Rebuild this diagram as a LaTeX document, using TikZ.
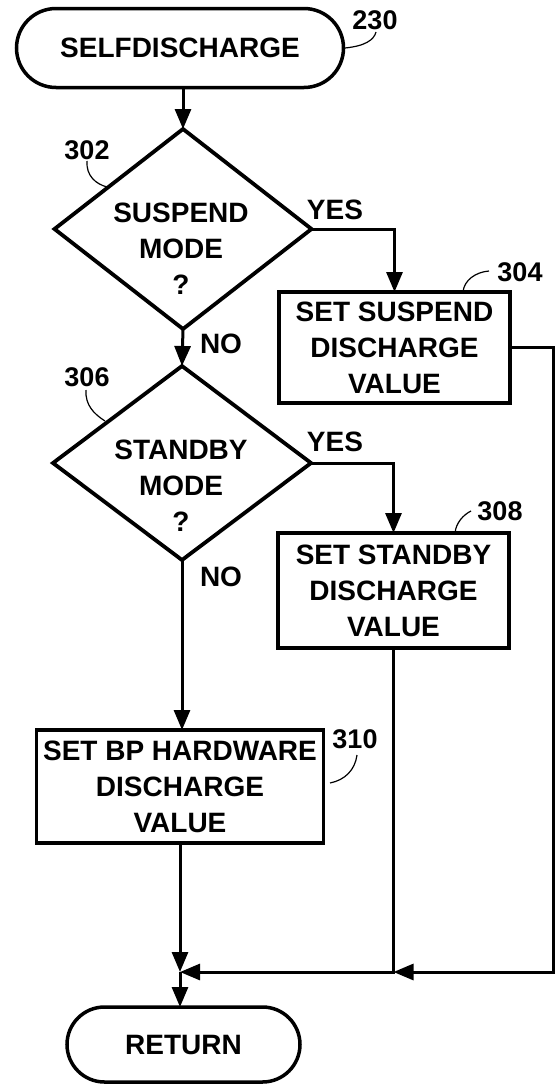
\documentclass[tikz,border=0pt]{standalone}
\usepackage{fontspec}
\setmainfont{Liberation Sans}
\usetikzlibrary{shapes.geometric,shapes.misc,arrows.meta}
\begin{document}
\begin{tikzpicture}[x=1pt,y=-1pt,
  every node/.style={inner sep=0pt,outer sep=0pt},
  txt/.style={font=\fontsize{28}{36}\selectfont\bfseries,align=center},
  num/.style={font=\fontsize{27}{30}\selectfont\bfseries},
  term/.style={rounded rectangle,draw,line width=3.5pt,txt},
  dia/.style={diamond,draw,line width=3.8pt},
  proc/.style={rectangle,draw,line width=3.3pt,txt},
  conn/.style={line width=3pt},
  arr/.style={conn,-{Triangle[length=20pt,width=16pt]}},
  lead/.style={line width=1.2pt}]
\useasboundingbox (0,0) rectangle (557,1084);

% nodes
\node[term,minimum width=327pt,minimum height=79pt] (t1) at (180,48) {SELFDISCHARGE};
\node[dia,minimum width=257pt,minimum height=200pt] (d1) at (183,229) {};
\node[txt] (d1t) at (181,249) {SUSPEND\\MODE\\?};
\node[proc,minimum width=231pt,minimum height=111pt] (b1) at (394.5,347.5) {SET SUSPEND\\DISCHARGE\\VALUE};
\node[dia,minimum width=258pt,minimum height=194pt] (d2) at (182,463) {};
\node[txt] (d2t) at (181,486) {STANDBY\\MODE\\?};
\node[proc,minimum width=231pt,minimum height=115pt] (b2) at (393.5,590.5) {SET STANDBY\\DISCHARGE\\VALUE};
\node[proc,minimum width=287pt,minimum height=113pt] (b3) at (180,786.5) {SET BP HARDWARE\\DISCHARGE\\VALUE};
\node[term,minimum width=233pt,minimum height=75pt] (t2) at (183.5,1044.5) {RETURN};

% branch labels
\node[txt] (yes1) at (335,210) {YES};
\node[txt] (no1) at (221,344) {NO};
\node[txt] (yes2) at (335,442) {YES};
\node[txt] (no2) at (221,577) {NO};

% reference numerals
\node[num] (n230) at (375,20) {230};
\node[num] (n302) at (87,150) {302};
\node[num] (n304) at (520,272) {304};
\node[num] (n306) at (87,377) {306};
\node[num] (n308) at (500,511) {308};
\node[num] (n310) at (355,739) {310};

% junctions
\coordinate (j1) at (180,972);
\coordinate (j2) at (b2.south |- j1);
\coordinate (c1) at (553,347.5);
\coordinate (c2) at (c1 |- j1);

% connectors
\draw[arr] (d1.north |- t1.south) -- (d1.north);
\draw[arr] (d1.east) -| (b1.north);
\draw[arr] (d1.south) -- (d2.north);
\draw[arr] (d2.east) -| (b2.north);
\draw[arr] (d2.south) -- (d2.south |- b3.north);
\draw[arr] (b3.south) -- (j1);
\draw[arr] (b1.east) -- (c1) -- (c2) -- (j2);
\draw[arr] (b2.south) -- (j2) -- (j1);
\draw[arr] (j1) -- (j1 |- t2.north);

% leaders
\draw[lead] (345,48) .. controls (365,46) and (374,40) .. (376,32);
\draw[lead] (87,161) .. controls (86,176) and (96,184) .. (107,187);
\draw[lead] (86,390) .. controls (85,405) and (94,414) .. (105,421);
\draw[lead] (463,292) .. controls (464,280) and (476,272) .. (489,271);
\draw[lead] (455,533) .. controls (456,523) and (463,515) .. (471,511);
\draw[lead] (330,783) .. controls (345,780) and (355,770) .. (357,755);
\end{tikzpicture}
\end{document}
